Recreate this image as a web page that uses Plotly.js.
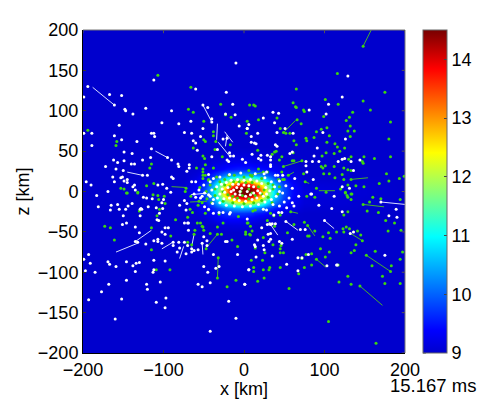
<!DOCTYPE html>
<html>
<head>
<meta charset="utf-8">
<script src="https://cdn.plot.ly/plotly-3.0.1.min.js"></script>
<style>html,body{margin:0;padding:0;background:#fff}</style>
</head>
<body>
<div id="plot" style="width:485px;height:399px"></div>
<script>
// density field, log10
var gridX = [-200,-75,-60,-48,-38,-30,-22,-14,-7,0,7,14,22,30,38,48,60,75,200];
var gridZ = [-200,-50,-42,-34,-26,-20,-14,-8,-3,3,9,14,20,28,36,46,55,200];
var field = [
[9,9,9,9,9,9,9,9,9,9,9,9,9,9,9,9,9,9,9],
[9,9,9,9,9,9,9,9,9,9,9,9,9,9,9,9,9,9,9],
[9,9,9,9,9,9.08,9.12,9.15,9.15,9.15,9.1,9.05,9,9,9,9,9,9,9],
[9,9,9,9.05,9.2,9.35,9.4,9.4,9.4,9.35,9.3,9.25,9.15,9.1,9.05,9,9,9,9],
[9,9,9.05,9.2,9.4,9.55,9.65,9.7,9.7,9.7,9.65,9.55,9.5,9.4,9.25,9.15,9.05,9,9],
[9,9,9.15,9.35,9.6,9.9,10.2,10.4,10.5,10.5,10.45,10.3,10.1,9.8,9.55,9.35,9.2,9.05,9],
[9,9,9.2,9.5,10,10.8,11.4,11.8,12,12.1,12,11.8,11.4,10.7,10.1,9.6,9.3,9.1,9],
[9,9.02,9.3,9.7,10.4,11.4,12.2,13,13.6,13.9,13.6,13,12.3,11.4,10.5,9.8,9.4,9.1,9],
[9,9.05,9.35,9.85,10.7,11.8,12.8,14.1,14.5,14.5,14.5,14.1,12.9,11.8,10.7,9.9,9.45,9.15,9],
[9,9.05,9.35,9.85,10.7,11.8,12.9,14.2,14.5,14.5,14.5,14.2,12.9,11.8,10.7,9.9,9.45,9.15,9],
[9,9.02,9.3,9.7,10.4,11.4,12.2,13,13.6,13.9,13.6,13,12.3,11.4,10.5,9.8,9.4,9.1,9],
[9,9,9.2,9.5,10,10.7,11.3,11.7,11.9,12,11.9,11.7,11.3,10.7,10,9.6,9.3,9.05,9],
[9,9,9.1,9.3,9.6,9.9,10.2,10.4,10.5,10.5,10.5,10.4,10.2,9.9,9.6,9.4,9.2,9,9],
[9,9,9.02,9.12,9.25,9.35,9.45,9.5,9.55,9.55,9.55,9.5,9.45,9.4,9.3,9.2,9.1,9,9],
[9,9,9,9.03,9.1,9.15,9.2,9.25,9.25,9.25,9.25,9.2,9.2,9.15,9.1,9.05,9,9,9],
[9,9,9,9,9,9.02,9.06,9.08,9.1,9.1,9.1,9.08,9.06,9.03,9,9,9,9,9],
[9,9,9,9,9,9,9,9,9,9,9,9,9,9,9,9,9,9,9],
[9,9,9,9,9,9,9,9,9,9,9,9,9,9,9,9,9,9,9]
];
var jet = [[0,'rgb(0,0,205)'],[0.07,'rgb(0,0,255)'],[0.36,'rgb(0,255,255)'],[0.62,'rgb(255,255,0)'],[0.88,'rgb(255,0,0)'],[1,'rgb(120,0,0)']];

// particles, [x, z] in km
var whiteDots = [
[-10,159],[-112,138],[-194,130],[-161,107],[-167,120],[-152,119],[-60,127],[-22,123],[-199,117],[-148,102],[-147,100],[-138,96],[-122,103],[-90,100],[-51,107],[-45,104],[-14,108],[-23,96],[-11,95],[-40,90],[-40,86],[-66,87],[-102,85],[-81,84],[-155,82],[-6,81],[4,78],[-51,78],[-74,73],[-65,72],[-115,72],[-112,72],[-111,68],[-161,69],[-189,72],[-199,72],[-152,64],[-133,62],[-189,57],[-63,63],[-60,60],[-54,68],[-21,66],[-26,65],[-33,52],[-58,51],[-115,53],[-149,49],[-139,47],[-116,42],[-95,42],[-90,39],[-126,39],[-162,39],[-149,38],[-157,36],[-140,34],[-136,34],[-172,31],[-82,34],[-81,31],[-68,33],[-68,29],[-71,25],[-159,28],[-150,26],[-120,20],[-126,20],[-151,18],[-163,18],[-153,17],[-145,15],[-149,13],[-196,12],[-161,12],[-145,11],[-136,8],[-138,6],[-190,8],[-107,8],[-101,9],[-90,18],[-88,16],[-96,4],[-65,12],[-135,2],[-169,0],[-18,48],[-13,44],[-21,39],[-19,37],[-2,40],[2,36],[-17,44],[-40,43],
[129,143],[122,117],[105,108],[36,98],[43,97],[81,101],[102,96],[24,91],[6,83],[38,85],[4,78],[17,72],[41,73],[51,78],[61,72],[98,73],[9,68],[126,65],[9,61],[13,60],[15,59],[39,58],[41,56],[91,54],[57,47],[60,49],[10,46],[21,45],[29,45],[33,43],[33,39],[33,33],[33,31],[18,41],[21,39],[87,44],[85,37],[93,37],[77,37],[77,32],[117,37],[122,40],[125,41],[133,37],[144,39],[136,26],[78,24],[28,24],[25,22],[39,20],[42,20],[48,20],[63,16],[86,15],[122,6],[131,4],[83,-3],[60,4],
[-183,-5],[-91,-1],[-125,-7],[-121,-8],[-114,-9],[-100,-10],[-102,-14],[-139,-15],[-80,-17],[-74,-11],[-71,-15],[-157,-16],[-144,-18],[-165,-17],[-147,-22],[-155,-22],[-166,-23],[-181,-19],[-119,-19],[-128,-21],[-127,-22],[-129,-22],[-109,-20],[-101,-21],[-105,-27],[-72,-23],[-150,-30],[-129,-30],[-108,-35],[-106,-36],[-146,-39],[-151,-41],[-135,-44],[-98,-45],[-94,-45],[-74,-39],[-69,-39],[-70,-39],[-69,-48],[-102,-50],[-130,-51],[-98,-53],[-50,-56],[-112,-61],[-107,-59],[-107,-62],[-102,-64],[-122,-65],[-135,-62],[-132,-63],[-88,-63],[-88,-67],[-81,-63],[-74,-63],[-70,-67],[-80,-70],[-83,-75],[-72,-77],[-65,-71],[-65,-75],[-62,-73],[-57,-72],[-52,-64],[-46,-61],[-46,-67],[-38,-78],[-23,-62],[-21,-62],[-8,-78],[-193,-78],[-112,-85],[-98,-86],[-146,-87],[-130,-88],[-134,-89],[-138,-92],[-169,-87],[-167,-90],[-191,-89],[-159,-93],[-197,-98],[-185,-100],[-135,-99],[-112,-97],[-113,-100],[-35,-95],[-31,-93],[-50,-93],[-45,-100],[6,-97],[-146,-110],[-104,-112],[-168,-115],[-121,-115],[-57,-115],[-52,-118],[-42,-113],[1,-115],[-120,-121],[-177,-124],[-193,-134],[-152,-133],[-97,-132],[-109,-137],[-19,-136],[-98,-144],[-160,-158],[-10,-157],[-42,-173],[-199,-84],[-60,-7],[-54,-8],[-49,-2],[-42,-6],[-39,-15],[-44,-22],[-49,-19],[-38,-27],[-31,-26],[-26,-26],[-18,-28],[-17,-26],
[84,-3],[112,-6],[68,-6],[93,-17],[109,-21],[122,-25],[189,-22],[180,-30],[190,-32],[60,-14],[62,-18],[53,-20],[24,-22],[28,-23],[43,-26],[47,-26],[37,-29],[4,-34],[29,-41],[32,-40],[35,-40],[39,-40],[52,-37],[70,-47],[76,-47],[22,-45],[33,-41],[30,-53],[33,-52],[17,-60],[31,-62],[33,-59],[44,-62],[47,-64],[60,-59],[13,-66],[14,-68],[24,-67],[25,-72],[15,-81],[35,-80],[6,-97],[67,-82],[72,-82],[80,-78],[103,-92],[115,-91],[116,-91],[53,-90],[67,-98],[1,-115],[175,-79],[100,-36],[132,-52],[136,-50],[170,-13],
[-14,9],[-7,9],[0,8],[6,7],[12,6],[-9,5],[-3,4],[-13,2],[-5,0],[4,0],[12,-2],[-11,-3],[-5,-4],[2,-6],[8,-4],[-16,0],[17,1],[20,-2],[-20,5],[-24,-1],[-27,3],[-30,-3],[-33,-8],[-25,-9],[-18,-8],[-12,-10],[-6,-11],[2,-12],[10,-10],[16,-8],[24,-6],[28,-3],[32,1],[27,5],[22,10],[16,13],[8,15],[0,14],[-8,15],[-16,14],[-22,11],[-28,9],[-34,6],[-40,2],[-44,-4],[-38,-10],[-30,-14],[-22,-17],[-12,-18],[-2,-19],[8,-18],[18,-16],[26,-13],[34,-10],[40,-6],[44,0],[38,6],[34,12],[26,17],[14,22],[-4,23],[-18,21],[-30,18],[-42,12],[-50,8],[-56,2],[-52,-6],[-62,-3],[-44,21],[-38,16],[44,13],[52,7],[48,-2],[56,-8],[50,-13],[44,-18],[36,-16],[-60,12]
];
var greenDots = [
[-107,144],[-66,129],[-29,108],[7,107],[-69,102],[-63,98],[-23,95],[-16,92],[-50,87],[4,87],[-194,76],[-38,74],[-38,69],[-158,62],[-159,57],[-50,64],[-48,62],[-35,62],[3,72],[-17,58],[-63,54],[-36,52],[-27,43],[-51,44],[-49,41],[-115,34],[-117,29],[-59,29],[-48,33],[-38,29],[-51,28],[-51,24],[-51,20],[-51,16],[-121,7],[-112,10],[-153,4],[-149,3],[-146,-2],[-132,-2],[-72,4],[-19,20],[-44,15],
[148,180],[116,146],[65,127],[175,123],[101,114],[148,112],[117,108],[12,107],[14,106],[61,110],[64,105],[65,104],[74,101],[75,99],[157,101],[135,98],[99,93],[131,92],[127,88],[182,86],[18,89],[41,91],[66,89],[71,84],[132,81],[103,79],[96,77],[90,74],[129,75],[137,75],[45,78],[49,73],[52,72],[57,72],[106,69],[132,68],[87,67],[77,66],[78,63],[62,63],[180,65],[103,61],[113,59],[116,55],[125,54],[65,58],[17,51],[119,50],[112,47],[102,48],[97,44],[38,49],[40,50],[35,46],[47,43],[61,48],[60,38],[62,38],[149,43],[162,41],[182,43],[133,43],[130,40],[44,39],[147,37],[148,35],[72,38],[49,31],[96,31],[98,29],[101,32],[112,31],[124,29],[129,27],[133,26],[47,24],[74,22],[99,22],[106,22],[122,21],[113,17],[124,15],[133,15],[177,22],[180,13],[193,16],[199,19],[168,10],[149,6],[139,7],[129,8],[90,4],[120,3],[126,-2],[133,-3],[76,12],[55,20],[8,20],[18,28],[6,26],[29,24],[24,24],[48,15],[43,15],[36,8],
[-145,-2],[-132,-1],[-113,-4],[-107,-5],[-99,-6],[-73,0],[-66,-6],[-106,-10],[-98,-15],[-57,-17],[-105,-22],[-130,-24],[-67,-22],[-64,-26],[-108,-30],[-70,-32],[-85,-35],[-173,-43],[-166,-45],[-115,-45],[-161,-60],[-115,-72],[-91,-55],[-58,-39],[-54,-39],[-52,-43],[-51,-44],[-33,-44],[-26,-39],[-61,-48],[-50,-48],[-62,-53],[-42,-52],[-33,-53],[-28,-53],[-15,-60],[-70,-63],[-65,-66],[-47,-71],[-8,-68],[-32,-82],[-33,-107],[-109,-97],[-92,-97],[-10,-110],[-21,-118],[2,-50],[2,-53],[7,-53],[5,-39],[-7,-31],[-48,-27],[-44,-23],[-31,-28],
[78,-6],[88,-7],[102,-1],[126,-1],[128,-5],[129,-7],[134,-3],[133,-10],[160,-7],[170,-9],[194,-10],[156,-13],[148,-16],[153,-24],[167,-26],[129,-25],[124,-29],[176,-36],[187,-39],[195,-48],[179,-49],[141,-49],[145,-54],[147,-61],[131,-46],[127,-44],[123,-46],[124,-50],[105,-51],[107,-58],[98,-56],[115,-50],[88,-49],[79,-55],[81,-55],[75,-38],[79,-42],[58,-25],[62,-41],[54,-51],[10,-49],[8,-54],[24,-57],[36,-66],[46,-67],[45,-71],[45,-76],[49,-76],[14,-70],[26,-76],[9,-85],[23,-85],[95,-71],[106,-75],[101,-81],[133,-76],[137,-73],[139,-66],[163,-74],[197,-75],[194,-84],[152,-79],[182,-99],[183,-92],[159,-92],[172,-105],[175,-114],[194,-114],[77,-78],[84,-77],[72,-83],[84,-91],[75,-94],[90,-84],[117,-91],[129,-105],[118,-112],[133,-115],[144,-117],[56,-120],[68,-102],[45,-94],[32,-94],[31,-97],[24,-97],[12,-94],[12,-99],[25,-107],[17,-111],[105,-161],[164,-188],[38,-43],[11,-24],[14,-23],[29,-36],[45,-29],[37,-30],[33,-27],[8,-43],[4,-39],
[-24,8],[-18,6],[-26,0],[-20,-4],[-14,-6],[-8,-8],[-2,-5],[6,-9],[14,-5],[22,-3],[25,2],[18,6],[10,11],[2,11],[-6,12],[-13,12],[-30,12],[-36,3],[-36,-5],[-42,8],[-47,0],[-44,14],[-34,18],[-24,15],[-12,20],[0,18],[10,19],[22,16],[30,10],[36,3],[42,-3],[30,-7],[22,-11],[12,-14],[0,-15],[-14,-14],[-26,-12],[-40,-14],[-46,-9],[-52,-14],[-55,5],[-48,20],[-56,-12],[35,-14],[44,6],[50,15],[-4,0],[6,3],[10,-2]
];
// streak segments, [x0, z0, x1, z1]
var whiteStreaks = [
[-188,129,-161,107],[-51,107,-40,86],[-33,84,-34,64],[-24,74,-14,61],[-23,56,-21,70],[-32,61,-18,44],[-110,50,-95,42],[-145,24,-126,20],
[-159,-75,-132,-64],[-135,-62,-115,-48],[-102,-71,-87,-62],[-80,-83,-75,-68],[-51,-78,-52,-64],[-65,-68,-62,-53],[-66,-4,-46,-2],
[52,-37,67,-48],[33,-41,42,-54],[100,-36,112,-46],[170,-13,200,-16]
];
var greenStreaks = [
[148,180,158,200],[49,73,64,88],[49,31,72,38],[8,20,25,24],[55,20,62,24],[133,15,154,17],[93,1,113,1],[76,12,81,10],[-90,6,-72,5],
[-48,-71,-33,-53],[-67,-13,-46,-12],[-32,-82,-33,-107],
[148,-16,174,-19],[131,-51,147,-61],[79,-42,88,-55],[58,-25,67,-27],[152,-79,182,-99],[90,-84,102,-94],[144,-117,172,-141]
];
var xTicks = [-200,-100,0,100,200];
var zTicks = [-200,-150,-100,-50,0,50,100,150,200];
var barTicks = [9,10,11,12,13,14];

function col(rows, i) { return rows.map(function(r) { return r[i]; }); }
function streakXY(list) {
  var xs = [], ys = [];
  list.forEach(function(s) { xs.push(s[0], s[2], null); ys.push(s[1], s[3], null); });
  return {x: xs, y: ys};
}
var ws = streakXY(whiteStreaks), gs = streakXY(greenStreaks);

var traces = [
  {type: 'heatmap', x: gridX, y: gridZ, z: field, zsmooth: 'best', zmin: 9, zmax: 14.5, colorscale: jet,
   colorbar: {x: 1.056, xanchor: 'left', xpad: 0, y: 0, yanchor: 'bottom', ypad: 0, len: 1, thickness: 24,
     outlinecolor: '#666', outlinewidth: 1, tickmode: 'array', tickvals: barTicks, ticks: 'inside', ticklen: 3, tickcolor: '#444',
     tickfont: {family: 'Liberation Sans', size: 18, color: '#000'}}},
  {type: 'scatter', mode: 'lines', x: ws.x, y: ws.y, line: {color: 'rgb(215,220,255)', width: 1}, showlegend: false},
  {type: 'scatter', mode: 'lines', x: gs.x, y: gs.y, line: {color: 'rgb(70,175,45)', width: 1}, showlegend: false},
  {type: 'scatter', mode: 'markers', x: col(greenDots, 0), y: col(greenDots, 1), marker: {color: 'rgb(60,215,15)', size: 3}, showlegend: false},
  {type: 'scatter', mode: 'markers', x: col(whiteDots, 0), y: col(whiteDots, 1), marker: {color: '#fff', size: 3}, showlegend: false}
];

// matlab style box: grey top and right edge with small inner ticks
var shapes = [
  {type: 'line', xref: 'paper', yref: 'paper', x0: 0, x1: 1, y0: 1, y1: 1, line: {color: '#777', width: 1}},
  {type: 'line', xref: 'paper', yref: 'paper', x0: 1, x1: 1, y0: 0, y1: 1, line: {color: '#777', width: 1}}
];
xTicks.forEach(function(t) {
  shapes.push({type: 'line', xref: 'x', yref: 'paper', x0: t, x1: t, y0: 1, y1: 0.99, line: {color: '#555', width: 1}});
});
zTicks.forEach(function(t) {
  shapes.push({type: 'line', xref: 'paper', yref: 'y', x0: 1, x1: 0.99, y0: t, y1: t, line: {color: '#555', width: 1}});
});
barTicks.forEach(function(t) {
  var f = (t - 9) / 5.5;
  shapes.push({type: 'line', xref: 'paper', yref: 'paper', x0: 1.056, x1: 1.065, y0: f, y1: f, line: {color: '#444', width: 1}});
});

var axisFont = {family: 'Liberation Sans', size: 18, color: '#000'};
var layout = {
  width: 485, height: 399,
  margin: {l: 82.5, r: 80, t: 30, b: 46, pad: 0, autoexpand: false},
  paper_bgcolor: '#fff', plot_bgcolor: 'rgb(0,0,205)',
  showlegend: false,
  xaxis: {range: [-200, 200], tickmode: 'array', tickvals: xTicks, ticks: 'inside', ticklen: 3, tickcolor: '#333', showgrid: false, zeroline: false,
    showline: true, linecolor: '#000', linewidth: 1, tickfont: axisFont,
    title: {text: 'x [km]', font: {family: 'Liberation Sans', size: 18, color: '#000'}, standoff: 0}},
  yaxis: {range: [-200, 200], tickmode: 'array', tickvals: zTicks, ticks: 'inside', ticklen: 3, tickcolor: '#333', showgrid: false, zeroline: false,
    showline: true, linecolor: '#000', linewidth: 1, tickfont: axisFont,
    title: {text: 'z [km]', font: {family: 'Liberation Sans', size: 18, color: '#000'}, standoff: 3}},
  shapes: shapes,
  annotations: [{text: '15.167 ms', xref: 'paper', yref: 'paper', x: 1.2264, y: -0.102, xanchor: 'right', yanchor: 'middle', showarrow: false,
    font: {family: 'Liberation Sans', size: 18.5, color: '#000'}}]
};
Plotly.newPlot('plot', traces, layout, {displayModeBar: false, staticPlot: true});
</script>
</body>
</html>
